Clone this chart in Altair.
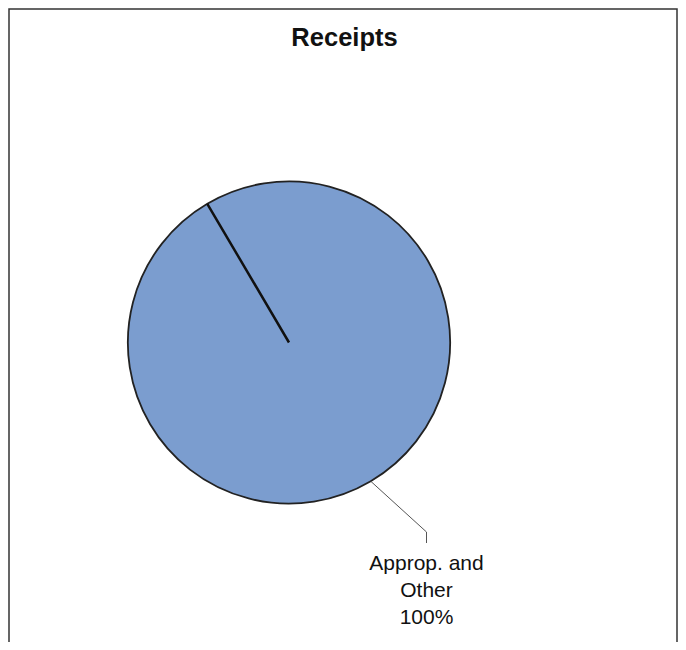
import math
import altair as alt
import pandas as pd

# ---- data ----
categories = ["Approp. and Other"]
label_lines = ["Approp. and\nOther"]
shares = [100]
title_text = "Receipts"

# ---- layout / style ----
W, H = 670, 634
CX, CY, R = 281, 334.5, 161
START_DEG = 329.5
start = math.radians(START_DEG)
FILL = "#7b9dcf"

total = sum(shares)
starts, ends, acc = [], [], 0
for s in shares:
    starts.append(acc)
    acc += s
    ends.append(acc)

df = pd.DataFrame({
    "category": categories,
    "share": shares,
    "start": starts,
    "end": ends,
    "label": [f"{l}\n{round(100 * s / total)}%" for l, s in zip(label_lines, shares)],
})

theta_scale = alt.Scale(domain=[0, total], range=[start, start + 2 * math.pi])

base = alt.Chart(df)

pie = base.mark_arc(radius=R, x=CX, y=CY, stroke="#222222", strokeWidth=1.8).encode(
    theta=alt.Theta("start:Q", scale=theta_scale),
    theta2="end:Q",
    color=alt.value(FILL),
)

radial = base.mark_arc(radius=R, x=CX, y=CY, fillOpacity=0, stroke="#111111", strokeWidth=2.5).encode(
    theta=alt.Theta("start:Q", scale=theta_scale),
    theta2="start:Q",
)

# leader line from the slice's mid angle
mid = start + math.pi * (starts[0] + ends[0]) / total
p0 = (CX + R * math.sin(mid), CY - R * math.cos(mid))
p1 = (418.5, 524)
p2 = (418.5, 535)

lead1 = base.mark_rule(stroke="#555555", strokeWidth=1).encode(
    x=alt.value(p0[0]), y=alt.value(p0[1]), x2=alt.value(p1[0]), y2=alt.value(p1[1])
)
lead2 = base.mark_rule(stroke="#555555", strokeWidth=1).encode(
    x=alt.value(p1[0]), y=alt.value(p1[1]), x2=alt.value(p2[0]), y2=alt.value(p2[1])
)

label = base.mark_text(
    font="Liberation Sans", fontSize=21, lineBreak="\n", lineHeight=27,
    align="center", baseline="top", color="#111111",
).encode(text="label:N", x=alt.value(418.5), y=alt.value(545))

title = base.mark_text(
    font="Liberation Sans", fontSize=25.5, fontWeight="bold", align="center",
    baseline="middle", color="#111111",
).encode(text=alt.value(title_text), x=alt.value(336.5), y=alt.value(30))

border = base.mark_rect(filled=False, stroke="#333333", strokeWidth=1.5).encode(
    x=alt.value(1), x2=alt.value(669), y=alt.value(1), y2=alt.value(720)
)

chart = alt.layer(border, pie, radial, lead1, lead2, label, title).properties(
    width=W, height=H, padding=0, autosize="none"
).configure_view(stroke=None)

chart.save("out.html", embed_options={"renderer": "svg", "actions": False})
